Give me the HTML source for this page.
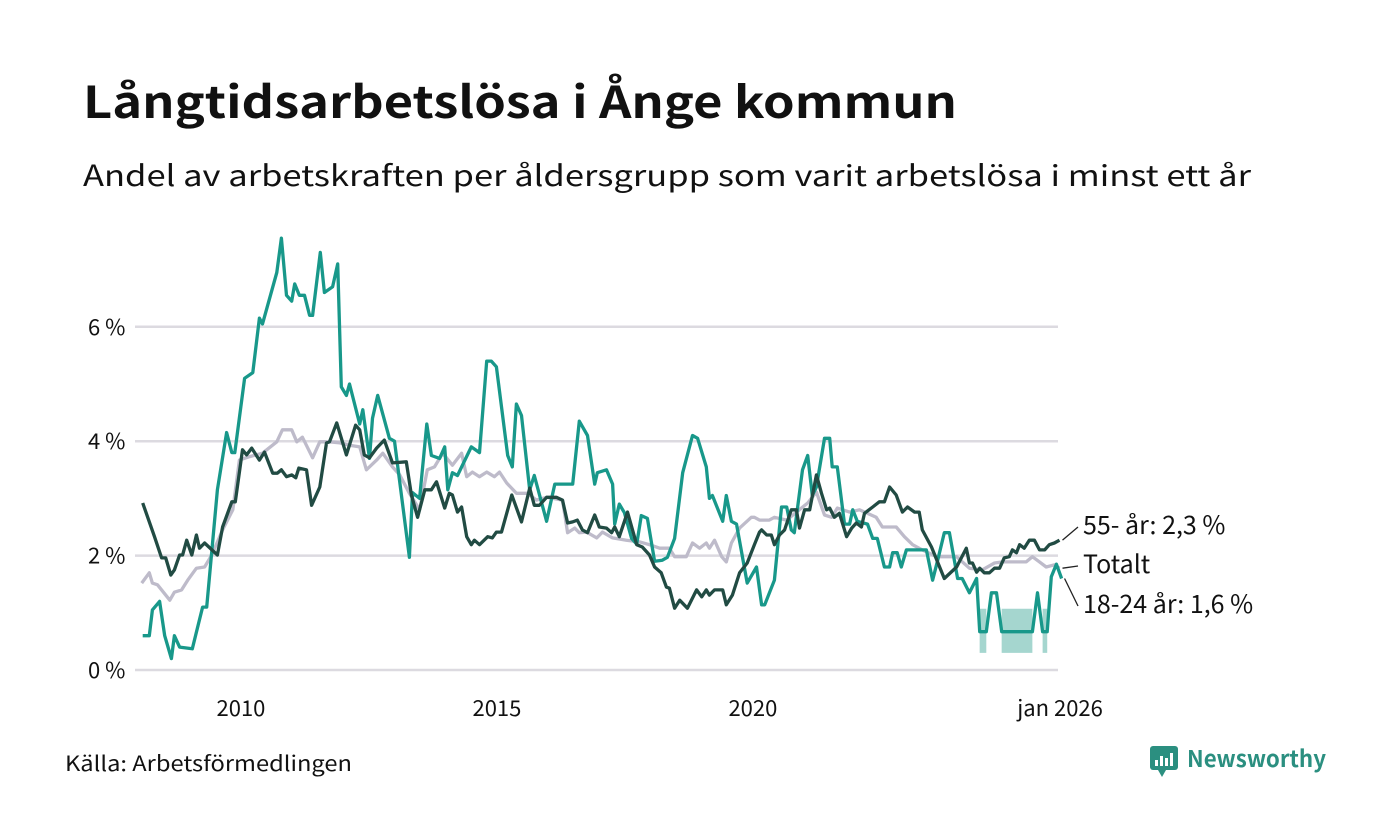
<!DOCTYPE html>
<html><head><meta charset="utf-8"><style>
html,body{margin:0;padding:0;background:#fff;}
svg{display:block;font-family:"Noto Sans CJK JP","Liberation Sans",sans-serif;}
</style></head><body>
<svg id="chart" width="1400" height="840" viewBox="0 0 1400 840">
<text x="83" y="118" font-size="44" font-weight="bold" fill="#111" textLength="874" lengthAdjust="spacingAndGlyphs">Långtidsarbetslösa i Ånge kommun</text>
<text x="83" y="186" font-size="29" fill="#111" textLength="1168" lengthAdjust="spacingAndGlyphs">Andel av arbetskraften per åldersgrupp som varit arbetslösa i minst ett år</text>
<g id="grid"></g>
<g id="band"></g>
<g id="lines"></g>
<g id="labels"></g>
<text x="65" y="771" font-size="21" fill="#111" textLength="287" lengthAdjust="spacingAndGlyphs">Källa: Arbetsförmedlingen</text>
<g>
<rect x="1150" y="746" width="28" height="24" rx="3" fill="#2b8f80"/>
<polygon points="1158,770 1166,770 1162,777" fill="#2b8f80"/>
<rect x="1155" y="760" width="3" height="6" fill="#fff"/><rect x="1160" y="756" width="3" height="10" fill="#fff"/><rect x="1165" y="758" width="3" height="8" fill="#fff"/><rect x="1170" y="753" width="3" height="13" fill="#fff"/>
<text x="1187" y="767" font-size="23" font-weight="bold" fill="#2b8f80" textLength="139" lengthAdjust="spacingAndGlyphs">Newsworthy</text>
</g>
</svg>
<script>
const yTicks=[0,2,4,6];
const yTickLabels=["0 %","2 %","4 %","6 %"];
const xTicks=[2010,2015,2020,2026];
const xTickLabels=["2010","2015","2020","jan 2026"];
const youngYears=[.08,.21,.27,.41,.51,.64,.70,.80,1.05,1.25,1.33,1.54,1.72,1.82,1.88,2.07,2.23,2.36,2.42,2.70,2.79,2.89,2.99,3.05,3.14,3.24,3.34,3.40,3.55,3.63,3.79,3.89,3.96,4.06,4.12,4.32,4.38,4.51,4.57,4.67,4.90,5.00,5.29,5.35,5.49,5.63,5.72,5.88,5.98,6.04,6.13,6.23,6.50,6.66,6.80,6.89,6.99,7.21,7.30,7.38,7.48,7.64,7.73,7.97,8.13,8.48,8.61,8.77,8.91,8.96,9.14,9.26,9.30,9.39,9.49,9.63,9.73,9.82,9.94,10.08,10.23,10.33,10.47,10.63,10.82,10.92,11.09,11.15,11.21,11.41,11.48,11.58,11.68,11.89,12.07,12.17,12.23,12.42,12.56,12.66,12.75,12.81,12.97,13.07,13.16,13.24,13.40,13.50,13.55,13.65,13.79,13.89,13.95,14.04,14.24,14.34,14.43,14.57,14.67,14.73,14.82,14.90,15.00,15.39,15.51,15.61,15.74,15.84,16.00,16.09,16.23,16.37,16.43,16.56,16.66,16.76,16.86,17.46,17.56,17.66,17.75,17.83,17.93,18.03];
const youngValues=[0.6,0.6,1.05,1.2,0.6,0.2,0.6,0.4,0.37,1.1,1.1,3.15,4.15,3.8,3.8,5.1,5.2,6.15,6.05,6.95,7.55,6.55,6.45,6.75,6.55,6.55,6.2,6.2,7.3,6.6,6.7,7.1,4.95,4.8,5.0,4.3,4.55,3.7,4.4,4.8,4.05,4.0,1.97,3.1,3.0,4.3,3.75,3.7,3.9,3.15,3.45,3.4,3.9,3.8,5.4,5.4,5.3,3.75,3.55,4.65,4.45,3.15,3.4,2.6,3.25,3.25,4.35,4.1,3.25,3.45,3.5,3.25,2.55,2.9,2.75,2.3,2.2,2.7,2.65,1.9,1.92,1.97,2.3,3.45,4.1,4.05,3.55,3.0,3.05,2.6,3.05,2.6,2.55,1.52,1.8,1.14,1.14,1.57,2.85,2.85,2.45,2.4,3.5,3.75,3.05,3.2,4.05,4.05,3.55,3.55,2.55,2.55,2.8,2.6,2.55,2.3,2.3,1.8,1.8,2.05,2.05,1.8,2.1,2.1,1.57,1.92,2.4,2.4,1.6,1.6,1.35,1.6,0.67,0.67,1.35,1.35,0.67,0.67,1.35,0.67,0.67,1.63,1.85,1.6];
const oldYears=[.08,.31,.45,.53,.63,.70,.80,.86,.94,1.04,1.13,1.19,1.29,1.54,1.64,1.82,1.89,2.03,2.11,2.21,2.36,2.46,2.62,2.71,2.79,2.89,2.99,3.07,3.13,3.28,3.38,3.54,3.67,3.73,3.87,4.06,4.24,4.32,4.41,4.51,4.65,4.80,4.96,5.23,5.33,5.45,5.59,5.72,5.82,5.98,6.07,6.13,6.23,6.31,6.41,6.50,6.56,6.66,6.82,6.91,6.99,7.09,7.29,7.48,7.64,7.73,7.83,7.97,8.16,8.28,8.38,8.48,8.57,8.67,8.77,8.91,9.00,9.14,9.24,9.30,9.39,9.55,9.73,9.84,9.98,10.08,10.21,10.31,10.37,10.47,10.57,10.72,10.90,11.00,11.09,11.15,11.25,11.41,11.48,11.60,11.74,11.89,12.03,12.13,12.17,12.27,12.36,12.42,12.52,12.62,12.75,12.85,12.91,13.01,13.11,13.24,13.34,13.44,13.50,13.59,13.69,13.83,13.93,14.02,14.12,14.18,14.34,14.47,14.57,14.67,14.80,14.92,15.02,15.16,15.25,15.31,15.49,15.74,15.98,16.17,16.23,16.29,16.37,16.43,16.52,16.62,16.72,16.82,16.91,17.01,17.07,17.15,17.21,17.30,17.40,17.50,17.60,17.70,17.79,17.89,17.99];
const oldValues=[2.92,2.33,1.96,1.96,1.66,1.75,2.01,2.01,2.27,2.01,2.36,2.13,2.22,2.01,2.5,2.94,2.94,3.85,3.76,3.88,3.67,3.81,3.44,3.44,3.5,3.38,3.41,3.36,3.53,3.5,2.88,3.2,3.97,3.99,4.32,3.76,4.28,4.2,3.76,3.71,3.88,4.02,3.62,3.64,3.06,2.67,3.15,3.15,3.29,2.83,3.09,3.06,2.76,2.85,2.33,2.19,2.27,2.19,2.33,2.31,2.41,2.41,3.06,2.59,3.18,2.88,2.88,3.02,3.02,2.97,2.57,2.59,2.62,2.45,2.4,2.71,2.5,2.48,2.4,2.5,2.33,2.76,2.19,2.15,2.01,1.8,1.7,1.45,1.43,1.08,1.22,1.08,1.4,1.28,1.4,1.31,1.4,1.4,1.14,1.31,1.7,1.87,2.19,2.41,2.45,2.36,2.36,2.19,2.36,2.45,2.8,2.8,2.48,2.8,2.8,3.41,3.09,2.8,2.83,2.67,2.74,2.33,2.48,2.57,2.5,2.74,2.85,2.94,2.94,3.2,3.06,2.76,2.85,2.76,2.76,2.45,2.15,1.6,1.8,2.13,1.87,1.87,1.71,1.78,1.7,1.7,1.78,1.78,1.96,1.98,2.1,2.05,2.19,2.13,2.27,2.27,2.1,2.1,2.19,2.22,2.27];
const totalYears=[.06,.21,.27,.37,.61,.70,.84,.96,1.13,1.29,1.43,1.64,1.84,1.97,2.17,2.42,2.70,2.81,2.99,3.09,3.20,3.40,3.54,3.73,3.93,4.12,4.32,4.45,4.65,4.77,4.96,5.10,5.29,5.49,5.64,5.78,5.94,6.13,6.31,6.41,6.52,6.66,6.80,6.95,7.05,7.19,7.38,7.60,7.77,7.97,8.28,8.38,8.52,8.61,8.75,8.95,9.06,9.26,9.53,9.79,9.98,10.18,10.37,10.47,10.70,10.82,10.96,11.09,11.15,11.25,11.39,11.48,11.58,11.74,11.97,12.03,12.13,12.32,12.42,12.66,12.85,13.07,13.24,13.40,13.54,13.65,13.89,14.08,14.41,14.53,14.80,14.96,15.12,15.31,15.59,15.98,16.23,16.48,16.72,16.88,17.07,17.34,17.46,17.60,17.73,17.89,17.99];
const totalValues=[1.52,1.7,1.52,1.49,1.22,1.36,1.4,1.57,1.78,1.8,2.01,2.45,2.8,3.67,3.73,3.79,3.99,4.2,4.2,3.99,4.07,3.71,3.99,3.99,3.97,3.93,3.9,3.5,3.67,3.79,3.55,3.41,3.09,2.8,3.5,3.55,3.79,3.58,3.79,3.38,3.46,3.38,3.46,3.38,3.46,3.27,3.09,3.09,2.97,3.02,2.97,2.4,2.48,2.4,2.41,2.31,2.41,2.31,2.27,2.24,2.19,2.13,2.13,1.98,1.98,2.22,2.13,2.22,2.13,2.27,1.98,1.89,2.22,2.48,2.67,2.67,2.62,2.62,2.67,2.62,2.76,2.92,3.11,2.71,2.67,2.83,2.76,2.8,2.67,2.5,2.5,2.33,2.19,2.1,1.98,1.98,1.78,1.75,1.87,1.89,1.89,1.89,1.98,1.89,1.8,1.84,1.78];
const bandYears=[16.43,16.56,16.86,17.46,17.66,17.75];
const bandLow=[0.3,0.3,0.3,0.3,0.3,0.3];
const bandHigh=[1.07,1.07,1.07,1.07,1.07,1.07];
const bandGroups=[[0,1],[2,3],[4,5]];

const NS="http://www.w3.org/2000/svg";
const X0=2008, PX0=138.6, PXY=51.19;
function xScale(yearOffsetOrYear){const y=yearOffsetOrYear<100?X0+yearOffsetOrYear:yearOffsetOrYear;return PX0+(y-X0)*PXY;}
function yScale(v){return 670-v*57.2;}
function mk(tag,attrs,parent){const e=document.createElementNS(NS,tag);for(const k in attrs)e.setAttribute(k,attrs[k]);parent.appendChild(e);return e;}
const grid=document.getElementById('grid');
yTicks.forEach((t,i)=>{
  const l=mk('line',{x1:135,x2:1058,y1:yScale(t),y2:yScale(t),stroke:'#dcdae0','stroke-width':2.5},grid);
  
  
  const tx=mk('text',{x:88,y:yScale(t)+8,'font-size':22,fill:'#111'},grid);
  tx.textContent=yTickLabels[i];
  
  
});
xTicks.forEach((t,i)=>{
  const tx=mk('text',{x:xScale(t),y:716,'font-size':22,fill:'#111','text-anchor':'middle'},grid);
  tx.textContent=xTickLabels[i];
  
  
});
const band=document.getElementById('band');
bandGroups.forEach(g=>{
  let pts=[];
  for(let i=g[0];i<=g[1];i++)pts.push(xScale(bandYears[i])+','+yScale(bandHigh[i]));
  for(let i=g[1];i>=g[0];i--)pts.push(xScale(bandYears[i])+','+yScale(bandLow[i]));
  const p=mk('polygon',{points:pts.join(' '),fill:'#a5d6cf'},band);
  
  
});
const lines=document.getElementById('lines');
function drawLine(xs,vs,color,name){
  const d=xs.map((x,i)=>(i?'L':'M')+xScale(x).toFixed(1)+' '+yScale(vs[i]).toFixed(1)).join(' ');
  const p=mk('path',{d:d,fill:'none',stroke:color,'stroke-width':3.3,'stroke-linejoin':'round'},lines);
  
  
}
drawLine(totalYears,totalValues,'#bebbca','line-totalt');
drawLine(youngYears,youngValues,'#18988a','line-18-24');
drawLine(oldYears,oldValues,'#214b43','line-55-plus');
const labels=document.getElementById('labels');
function endLabel(yrs,vals,ty,text,name){
  const x=xScale(yrs[yrs.length-1]),y=yScale(vals[vals.length-1]);
  const l=mk('line',{x1:x+3,y1:y,x2:1078,y2:ty-7,stroke:'#222','stroke-width':1.3},labels);
  
  
  const t=mk('text',{x:1083,y:ty,'font-size':25,fill:'#111'},labels);
  t.textContent=text;
  
  
}
endLabel(oldYears,oldValues,534,'55- år: 2,3 %','label-55-plus');
endLabel(totalYears,totalValues,573,'Totalt','label-totalt');
endLabel(youngYears,youngValues,613,'18-24 år: 1,6 %','label-18-24');
</script>
</body></html>
